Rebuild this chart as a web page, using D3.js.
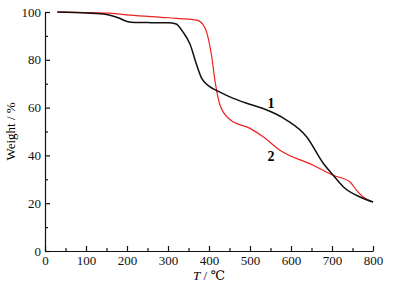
<!DOCTYPE html>
<html>
<head>
<meta charset="utf-8">
<script src="https://cdn.jsdelivr.net/npm/d3@7"></script>
<style>
  body { margin: 0; background: #fff; }
  svg text { font-family: 'Liberation Serif', 'DejaVu Serif', serif !important; }
</style>
</head>
<body>
<div id="chart"></div>
<script>
// curve 1 (black)
const temp1 = [30, 100, 150, 180, 200, 220, 300, 320, 335, 354, 370, 382, 400, 419, 451, 492, 532, 589, 638, 679, 703, 728, 768, 800]
const weight1 = [100, 99.6, 99, 97.5, 96, 95.6, 95.5, 95, 92, 86.4, 77.8, 72.3, 69, 67.1, 64.5, 61.8, 59.6, 54.8, 47.8, 36.6, 31.7, 26.8, 22.6, 20.5]

// curve 2 (red)
const temp2 = [30, 100, 158, 207, 300, 370, 385, 394, 406, 415, 427, 451, 500, 532, 573, 654, 703, 744, 760, 776, 800]
const weight2 = [100, 99.8, 99.5, 98.7, 97.6, 96.6, 94.8, 91.7, 82, 70.8, 61, 55, 51.3, 47.8, 42.2, 35.9, 31.7, 28.9, 25.4, 22.6, 20.5]

const xTicks = [0, 100, 200, 300, 400, 500, 600, 700, 800]
const yTicks = [0, 20, 40, 60, 80, 100]

const fullWidth = 393, fullHeight = 292
const margin = { top: 12, right: 20, bottom: 41, left: 45 }
const width = 373 - margin.left
const height = fullHeight - margin.top - margin.bottom

const svg = d3.select('#chart')
  .append('svg')
  .attr('width', fullWidth)
  .attr('height', fullHeight)
  .append('g')
  .attr('transform', `translate(${margin.left}, ${margin.top})`)

const x = d3.scaleLinear().domain([0, 800]).range([0, width])
const y = d3.scaleLinear().domain([0, 100]).range([height, 0])

// minor ticks first
svg.append('g')
  .attr('transform', `translate(0, ${height})`)
  .call(d3.axisBottom(x).tickValues(d3.range(50, 800, 100)).tickSize(-3).tickFormat(''))
  .call(g => g.select('.domain').remove())
svg.append('g')
  .call(d3.axisLeft(y).tickValues(d3.range(10, 100, 20)).tickSize(-3).tickFormat(''))
  .call(g => g.select('.domain').remove())

svg.append('g')
  .attr('transform', `translate(0, ${height})`)
  .call(d3.axisBottom(x).tickValues(xTicks).tickSize(-5).tickSizeOuter(0).tickPadding(5))
svg.append('g')
  .call(d3.axisLeft(y).tickValues(yTicks).tickSize(-5).tickSizeOuter(0).tickPadding(4))

svg.selectAll('.tick text')
  .attr('font-size', 13)
  .attr('fill', '#111')
svg.selectAll('.domain, .tick line').attr('stroke', '#111').attr('stroke-width', 1.2)

const line = d3.line()
  .x(d => x(d[0]))
  .y(d => y(d[1]))
  .curve(d3.curveMonotoneX)

svg.append('path')
  .datum(d3.zip(temp2, weight2))
  .attr('fill', 'none')
  .attr('stroke', '#f02020')
  .attr('stroke-width', 1.2)
  .attr('d', line)

svg.append('path')
  .datum(d3.zip(temp1, weight1))
  .attr('fill', 'none')
  .attr('stroke', '#111')
  .attr('stroke-width', 1.5)
  .attr('d', line)

// curve labels
svg.append('text')
  .attr('x', x(551)).attr('y', y(60))
  .attr('text-anchor', 'middle')
  .attr('font-size', 14).attr('font-weight', 'bold')
  .text('1')
svg.append('text')
  .attr('x', x(551)).attr('y', y(37.5))
  .attr('text-anchor', 'middle')
  .attr('font-size', 14).attr('font-weight', 'bold')
  .text('2')

// axis titles
const xt = svg.append('text')
  .attr('x', x(400)).attr('y', height + 29)
  .attr('text-anchor', 'middle')
  .attr('font-size', 13)
xt.append('tspan').attr('font-style', 'italic').text('T')
xt.append('tspan').text(' / ℃')

svg.append('text')
  .attr('transform', `translate(-30, ${y(50)}) rotate(-90)`)
  .attr('text-anchor', 'middle')
  .attr('font-size', 13)
  .text('Weight / %')
</script>
</body>
</html>
